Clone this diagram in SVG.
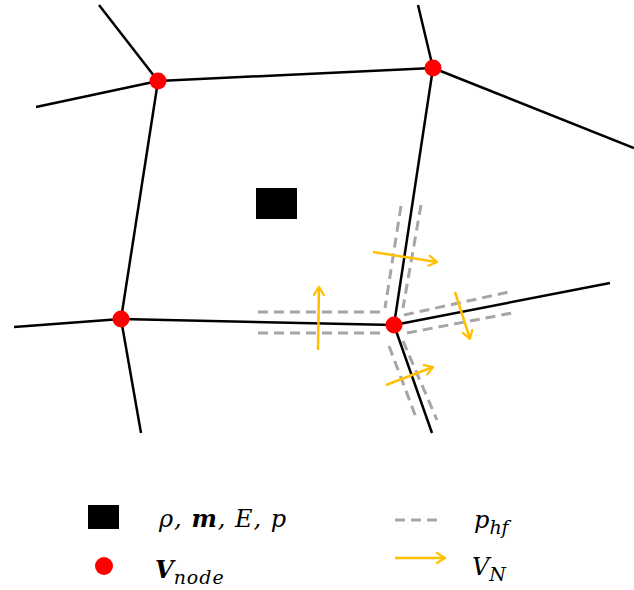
<svg xmlns="http://www.w3.org/2000/svg" width="634" height="590" viewBox="0 0 634 590">
<defs>
<marker id="ah" viewBox="0 0 12 12" refX="10" refY="6" markerWidth="12" markerHeight="12" markerUnits="userSpaceOnUse" orient="auto">
<path d="M2,1 L10,6 L2,11" fill="none" stroke="#ffc000" stroke-width="2.2" stroke-linecap="round" stroke-linejoin="round"/>
</marker>
<style>
.edge{stroke:#000;stroke-width:2.5;fill:none}
.dash{stroke:#a6a6a6;stroke-width:3;stroke-dasharray:10 6;fill:none}
.vel{stroke:#ffc000;stroke-width:2.5;fill:none;marker-end:url(#ah)}
.node{fill:#ff0000}
.t{font-family:"DejaVu Serif","Liberation Serif",serif;font-style:italic;fill:#000}
</style>
</defs>
<g id="connectors">
<line class="edge" x1="158" y1="81" x2="99" y2="5"/>
<line class="edge" x1="158" y1="81" x2="36" y2="107"/>
<line class="edge" x1="158" y1="81" x2="433" y2="68"/>
<line class="edge" x1="433" y1="68" x2="418" y2="5"/>
<line class="edge" x1="433" y1="68" x2="634" y2="148"/>
<line class="edge" x1="158" y1="81" x2="121" y2="319"/>
<line class="edge" x1="433" y1="68" x2="394" y2="325"/>
<line class="edge" x1="121" y1="319" x2="14" y2="327"/>
<line class="edge" x1="121" y1="319" x2="141" y2="433"/>
<line class="edge" x1="121" y1="319" x2="394" y2="325"/>
<line class="edge" x1="394" y1="325" x2="610" y2="283"/>
<line class="edge" x1="394" y1="325" x2="432" y2="433"/>
</g>
<g id="faces">
<line class="dash" x1="258" y1="312" x2="382" y2="312"/>
<line class="dash" x1="258" y1="333" x2="382" y2="333"/>
<line class="dash" x1="401" y1="206" x2="385" y2="308"/>
<line class="dash" x1="421" y1="205" x2="403" y2="308"/>
<line class="dash" x1="404" y1="315" x2="509" y2="292"/>
<line class="dash" x1="407" y1="333" x2="512" y2="313"/>
<line class="dash" x1="389" y1="346" x2="417" y2="420"/>
<line class="dash" x1="403" y1="341" x2="437" y2="420"/>
</g>
<g id="velocities">
<line class="vel" x1="373" y1="252" x2="437" y2="262"/>
<line class="vel" x1="318" y1="350" x2="319" y2="287"/>
<line class="vel" x1="455" y1="292" x2="470" y2="339"/>
<line class="vel" x1="386" y1="385" x2="433" y2="367"/>
</g>
<g id="cell"><rect x="256" y="188" width="41" height="31" fill="#000"/></g>
<g id="n1"><circle class="node" cx="158" cy="81" r="8.5"/></g>
<g id="n2"><circle class="node" cx="433" cy="68" r="8.5"/></g>
<g id="n3"><circle class="node" cx="121" cy="319" r="8.5"/></g>
<g id="n4"><circle class="node" cx="394" cy="325" r="8.5"/></g>
<g id="legend">
<rect x="88" y="505" width="31" height="24" fill="#000"/>
<text class="t" x="159" y="527" font-size="24" letter-spacing="1">ρ, <tspan font-weight="bold">m</tspan>, E, p</text>
<circle class="node" cx="104" cy="566" r="9"/>
<text class="t" x="155" y="578" font-size="24" font-weight="bold">V<tspan font-weight="normal" font-size="19" dy="6" letter-spacing="1">node</tspan></text>
<line class="dash" x1="395" y1="520" x2="443" y2="520"/>
<text class="t" x="474" y="528" font-size="24">p<tspan font-size="19" dy="6">hf</tspan></text>
<line class="vel" x1="395" y1="558" x2="445" y2="558"/>
<text class="t" x="472" y="575" font-size="24">V<tspan font-size="19" dy="6">N</tspan></text>
</g>
</svg>
